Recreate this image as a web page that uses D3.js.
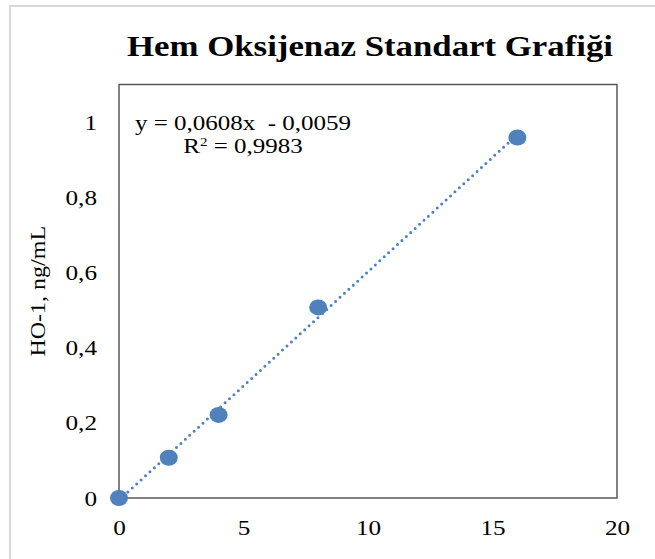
<!DOCTYPE html>
<html>
<head>
<meta charset="utf-8">
<script src="https://cdn.jsdelivr.net/npm/d3@7"></script>
<style>
  html, body { margin: 0; padding: 0; background: #fff; }
  svg { display: block; }
  text { font-family: "Liberation Serif", "Times New Roman", serif; fill: #000; }
</style>
</head>
<body>
<div id="chart"></div>
<script>
// data
const concentrations = [0, 2, 4, 8, 16];
const hoValues = [0, 0.107, 0.221, 0.507, 0.959];
const xTicks = [0, 5, 10, 15, 20];
const yTicks = [0, 0.2, 0.4, 0.6, 0.8, 1];
const trend = { slope: 0.0608, intercept: -0.0059, r2: 0.9983 };
const chartTitle = 'Hem Oksijenaz Standart Grafiği';
const yTitle = 'HO-1, ng/mL';

const W = 655, H = 559;
const margin = { top: 84.5, right: 38, bottom: 61, left: 119 };
const width = W - margin.left - margin.right;
const height = H - margin.top - margin.bottom;
const stretch = 1.2; // glyphs in the reference are wide
const blue = '#4f81bd';

const fmt = d => String(d).replace('.', ',');

const svg = d3.select('#chart').append('svg')
  .attr('width', W)
  .attr('height', H);

// light outer frame of the chart area
svg.append('rect')
  .attr('x', 10).attr('y', 6)
  .attr('width', W + 20).attr('height', H + 20)
  .attr('fill', 'none')
  .attr('stroke', '#d9d9d9')
  .attr('stroke-width', 2);

const g = svg.append('g')
  .attr('transform', `translate(${margin.left},${margin.top})`);

const x = d3.scaleLinear().domain([0, 20]).range([0, width]);
const y = d3.scaleLinear().domain([0, 1.1]).range([height, 0]);

// title
svg.append('text')
  .attr('transform', `translate(${margin.left + width / 2 + 2},56) scale(${stretch},1)`)
  .attr('text-anchor', 'middle')
  .style('font-size', '29px')
  .style('font-weight', 'bold')
  .text(chartTitle);

// x axis labels
const xAxis = g.append('g')
  .attr('transform', `translate(0,${height})`)
  .call(d3.axisBottom(x).tickValues(xTicks).tickSize(0).tickPadding(0).tickFormat(fmt));
xAxis.select('.domain').remove();
xAxis.selectAll('text')
  .attr('y', 0)
  .attr('dy', null)
  .attr('transform', `translate(0,37) scale(${stretch},1)`)
  .style('font-size', '21px')
  .style('font-family', '"Liberation Serif", serif')
  .attr('fill', '#000');

// y axis labels
const yAxis = g.append('g')
  .call(d3.axisLeft(y).tickValues(yTicks).tickSize(0).tickPadding(0).tickFormat(fmt));
yAxis.select('.domain').remove();
yAxis.selectAll('text')
  .attr('x', 0)
  .attr('dy', null)
  .attr('transform', `translate(-22,7) scale(${stretch},1)`)
  .style('font-size', '21px')
  .style('font-family', '"Liberation Serif", serif')
  .attr('fill', '#000');

// y axis title
svg.append('text')
  .attr('transform', `translate(45,${margin.top + height / 2}) rotate(-90) scale(${stretch},1)`)
  .attr('text-anchor', 'middle')
  .style('font-size', '20px')
  .text(yTitle);

// plot border
g.append('rect')
  .attr('width', width)
  .attr('height', height)
  .attr('fill', 'none')
  .attr('stroke', '#595959')
  .attr('stroke-width', 1.5);

// linear trendline (dotted)
const xMax = d3.max(concentrations);
g.append('line')
  .attr('x1', x(0))
  .attr('y1', y(trend.intercept))
  .attr('x2', x(xMax))
  .attr('y2', y(trend.slope * xMax + trend.intercept))
  .attr('stroke', blue)
  .attr('stroke-width', 3)
  .attr('stroke-linecap', 'round')
  .attr('stroke-dasharray', '0,6');

// markers
g.selectAll('.pt')
  .data(concentrations.map((c, i) => ({ c, v: hoValues[i] })))
  .join('ellipse')
    .attr('class', 'pt')
    .attr('cx', d => x(d.c))
    .attr('cy', d => y(d.v))
    .attr('rx', 9)
    .attr('ry', 8)
    .attr('fill', blue);

// equation + R²
const eq = svg.append('text')
  .attr('text-anchor', 'middle')
  .attr('xml:space', 'preserve')
  .attr('transform', `translate(243,130) scale(1.25,1)`)
  .style('font-size', '20px');
eq.append('tspan')
  .style('white-space', 'pre')
  .text(`y = ${fmt(trend.slope)}x  - ${fmt(Math.abs(trend.intercept))}`);

const r2 = svg.append('text')
  .attr('text-anchor', 'middle')
  .attr('transform', `translate(243,153) scale(1.25,1)`)
  .style('font-size', '20px');
r2.append('tspan').text('R');
r2.append('tspan').attr('dy', -7).style('font-size', '12px').text('2');
r2.append('tspan').attr('dy', 7).text(` = ${fmt(trend.r2)}`);
</script>
</body>
</html>
